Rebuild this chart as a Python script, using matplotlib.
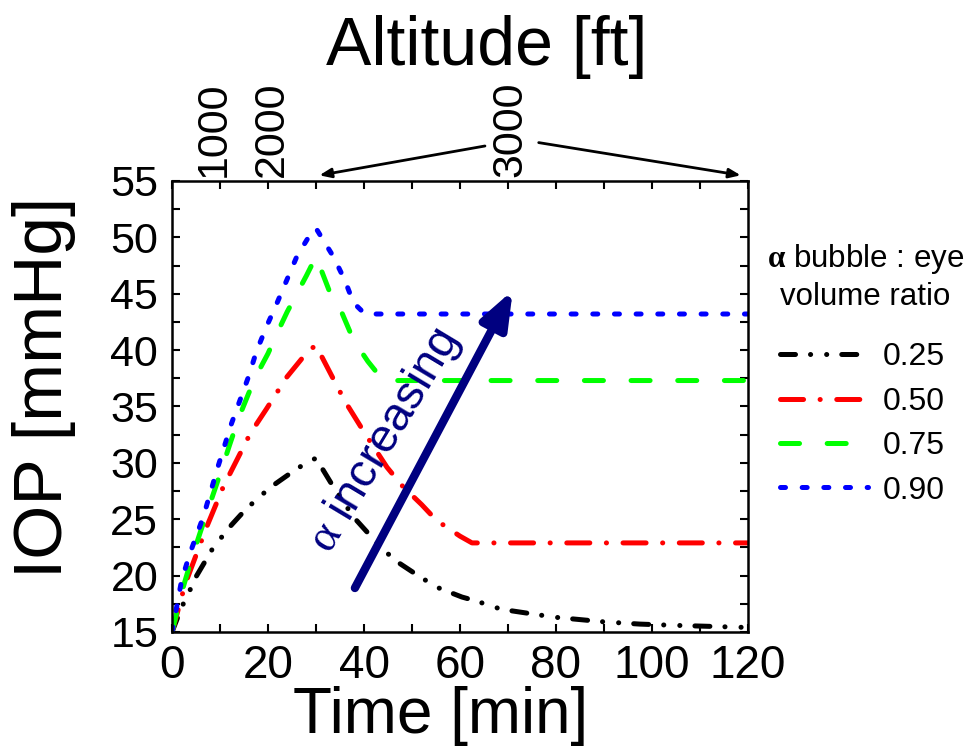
import numpy as np
import matplotlib
matplotlib.use("Agg")
import matplotlib.pyplot as plt
from matplotlib.ticker import MultipleLocator

plt.rcParams['font.family'] = ['Liberation Sans', 'DejaVu Sans']
plt.rcParams['mathtext.fontset'] = 'custom'
plt.rcParams['mathtext.rm'] = 'Liberation Serif'
plt.rcParams['mathtext.it'] = 'Liberation Serif:italic'
plt.rcParams['mathtext.bf'] = 'Liberation Serif:bold'
plt.rcParams['lines.scale_dashes'] = False

# ---- data ----
t_025 = [0, 2, 3.4, 5, 8.6, 12.4, 15.4, 20.4, 25.4, 28.7, 30, 33, 37.8, 41.2, 44,
         47, 50.2, 55, 60.4, 63.8, 67, 70.4, 76.7, 80, 85, 90, 97.5, 104, 112, 120]
y_025 = [15.0, 17.2, 18.4, 19.9, 22.5, 24.5, 25.9, 27.8, 29.3, 30.2, 30.4, 28.3, 25.2, 23.6, 22.3,
         21.2, 20.3, 19.0, 18.1, 17.7, 17.2, 16.9, 16.5, 16.3, 16.1, 15.9, 15.7, 15.6, 15.5, 15.4]

t_050 = [0, 2.7, 7.2, 10.7, 16.3, 19.7, 23.9, 28.5, 30, 35, 36.7, 40.2, 44.8, 48.1, 52,
         55.1, 60, 62.5, 120]
y_050 = [15.0, 19.2, 24.3, 27.9, 32.6, 34.8, 37.6, 40.0, 40.4, 36.3, 35.0, 32.6, 29.6, 27.9, 26.3,
         24.9, 23.5, 22.9, 22.9]

t_075 = [0, 2, 4, 6, 8, 10, 12, 14, 16, 18, 20, 22, 24, 26, 28, 30,
         32.9, 35.4, 37.8, 40.8, 44, 120]
y_075 = [15.0, 18.5, 21.4, 24.0, 26.5, 29.0, 31.6, 34.1, 36.2, 38.1, 39.7, 41.6, 43.4, 45.0, 46.6, 48.3,
         45.1, 43.3, 40.9, 39.0, 37.3, 37.3]

t_090 = [0, 2, 3.75, 6.5, 9.6, 12.4, 15.9, 17.6, 19.7, 21.8, 23.9, 26, 28.7, 30,
         33.6, 36, 37.8, 40.2, 120]
y_090 = [15.0, 19.6, 22.0, 25.2, 29.7, 33.5, 37.6, 39.9, 42.1, 44.1, 46.2, 48.3, 50.2, 50.8,
         48.3, 46.2, 44.2, 43.2, 43.2]

ratios = ["0.25", "0.50", "0.75", "0.90"]
colors = ["black", "red", "#00ff00", "blue"]
dashes = [(10.8, 10.8, 0.1, 11.5, 0.1, 10.8),
          (16.6, 11.9, 0.1, 11.9),
          (13.7, 19.9),
          (3.6, 12.0)]

alt_labels = ["1000", "2000", "3000"]
alt_times = [8.75, 20.7, 70.4]

fig = plt.figure(figsize=(9.72, 7.53), dpi=100)
ax = fig.add_axes([0.177, 0.1607, 0.5925, 0.599])

series = [(t_025, y_025), (t_050, y_050), (t_075, y_075), (t_090, y_090)]
for (t, y), lab, c, d in zip(series, ratios, colors, dashes):
    ax.plot(t, y, color=c, lw=3.6, dashes=d, dash_capstyle='round', label=lab)

ax.set_xlim(0, 120)
ax.set_ylim(15, 55)
ax.xaxis.set_major_locator(MultipleLocator(20))
ax.xaxis.set_minor_locator(MultipleLocator(10))
ax.yaxis.set_major_locator(MultipleLocator(5))
ax.yaxis.set_minor_locator(MultipleLocator(2.5))
ax.tick_params(which='both', direction='in', top=True, right=True, width=1.5, length=6)
ax.tick_params(axis='x', labelsize=33, pad=9)
ax.tick_params(axis='y', labelsize=31, pad=10)
for s in ax.spines.values():
    s.set_linewidth(1.8)

# altitude labels on top
for lab, tt in zip(alt_labels, alt_times):
    ax.annotate(lab, xy=(tt, 1.0), xycoords=('data', 'axes fraction'),
                xytext=(0, 3), textcoords='offset points',
                rotation=90, ha='center', va='bottom', fontsize=31)
ax.annotate('', xy=(30.7, 55.5), xytext=(65.2, 58.1), annotation_clip=False,
            arrowprops=dict(arrowstyle='-|>,head_length=0.7,head_width=0.28',
                            lw=2, color='black', shrinkA=0, shrinkB=0))
ax.annotate('', xy=(118.5, 55.5), xytext=(76.4, 58.4), annotation_clip=False,
            arrowprops=dict(arrowstyle='-|>,head_length=0.7,head_width=0.28',
                            lw=2, color='black', shrinkA=0, shrinkB=0))

# alpha increasing arrow
ax.annotate('', xy=(71, 45.3), xytext=(38.1, 18.9),
            arrowprops=dict(arrowstyle='-|>,head_length=1.1,head_width=0.42',
                            mutation_scale=20, lw=6, color='#000080', capstyle='round',
                            shrinkA=0, shrinkB=0))
ax.text(44.2, 32.0, r'$\mathrm{\alpha}$ increasing', rotation=59, rotation_mode='anchor',
        ha='center', va='center', fontsize=34, color='#000080')

leg = ax.legend(loc='center left', bbox_to_anchor=(0.8025, 0.437), bbox_transform=fig.transFigure,
                frameon=False, fontsize=23, handlelength=2.75, handletextpad=0.45,
                labelspacing=0.45, borderpad=0, borderaxespad=0)
fig.text(0.89, 1 - 267 / 753, r'$\mathbf{\alpha}$ bubble : eye', ha='center', va='baseline',
         fontsize=22.5)
fig.text(0.89, 1 - 305 / 753, 'volume ratio', ha='center', va='baseline', fontsize=22.5)

fig.text(0.501, 1 - 65 / 753, 'Altitude [ft]', ha='center', va='baseline', fontsize=49)
fig.text(0.4537, 1 - 733 / 753, 'Time [min]', ha='center', va='baseline', fontsize=46)
fig.text(0.045, 0.485, 'IOP [mmHg]', rotation=90, ha='center', va='center', fontsize=50)

fig.savefig('out.png', dpi=100)
